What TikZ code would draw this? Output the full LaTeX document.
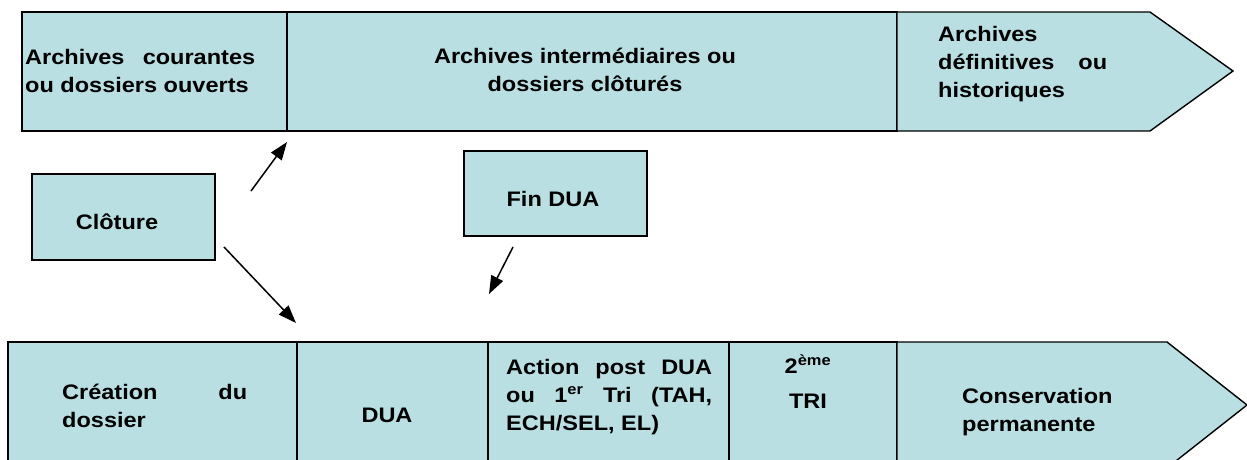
\documentclass[tikz,border=0pt]{standalone}
\usepackage{fontspec}
\setmainfont{Liberation Sans}[FakeStretch=1.12]
\usetikzlibrary{arrows.meta}
\definecolor{boxfill}{RGB}{185,223,227}
\tikzset{
  box/.style={draw=black, fill=boxfill, line width=1.4pt, line join=miter},
  rbox/.style={box, rectangle, inner sep=0pt, outer sep=0pt, anchor=north west},
  lbl/.style={inner sep=0pt, font=\fontsize{21}{28}\selectfont\bfseries, align=left, anchor=base west},
  clbl/.style={inner sep=0pt, font=\fontsize{21}{28}\selectfont\bfseries, align=center, anchor=base},
  arr/.style={line width=1.5pt, -{Triangle[length=18pt,width=13pt]}}
}
\begin{document}
\begin{tikzpicture}[x=1pt,y=-1pt]
\useasboundingbox (0,0) rectangle (1247,459);
\clip (0,0) rectangle (1247,459);
% top row
\node[rbox, minimum width=265pt, minimum height=119pt] (top1) at (22,12) {};
\node[rbox, minimum width=610pt, minimum height=119pt] (top2) at (287,12) {};
\draw[box] (897,12) -- (1150,12) -- (1233,71) -- (1150,131) -- (897,131) -- cycle;
% bottom row
\node[rbox, minimum width=289pt, minimum height=126pt] (bot1) at (8,342) {};
\node[rbox, minimum width=191pt, minimum height=126pt] (bot2) at (297,342) {};
\node[rbox, minimum width=241pt, minimum height=126pt] (bot3) at (488,342) {};
\node[rbox, minimum width=168pt, minimum height=126pt] (bot4) at (729,342) {};
\draw[box] (897,342) -- (1167,342) -- (1247,405) -- (1167,468) -- (897,468) -- cycle;
% middle boxes
\node[rbox, minimum width=183pt, minimum height=86pt] (clo) at (32,174) {};
\node[rbox, minimum width=183pt, minimum height=85pt] (fin) at (464,151) {};
% texts (anchor = baseline of the last line)
\node[lbl] (t1) at (25,92) {\makebox[230pt][s]{Archives courantes}\\ou dossiers ouverts};
\node[clbl] (t2) at (585,91) {Archives intermédiaires ou\\dossiers clôturés};
\node[lbl] (t3) at (938,97) {Archives\\\makebox[169pt][s]{définitives ou}\\historiques};
\node[clbl] (t4) at (117,229) {Clôture};
\node[clbl] (t5) at (553,206) {Fin DUA};
\node[lbl] (t6) at (62,427) {\makebox[185pt][s]{Création du}\\dossier};
\node[clbl] (t7) at (387,422) {DUA};
\node[lbl] (t8) at (506,430) {\makebox[206pt][s]{Action post DUA}\\\makebox[206pt][s]{ou 1\textsuperscript{er} Tri (TAH,}\\ECH/SEL, EL)};
\node[clbl] (t9) at (808,408) {2\textsuperscript{ème}\\[7pt]TRI};
\node[lbl] (t10) at (962,431) {Conservation\\permanente};
% arrows
\coordinate (a1s) at (251,191);
\coordinate (a1e) at (287,142);
\coordinate (a2s) at (224,247);
\coordinate (a2e) at (296,323);
\coordinate (a3s) at (513,247);
\coordinate (a3e) at (489,294);
\draw[arr] (a1s) -- (a1e);
\draw[arr] (a2s) -- (a2e);
\draw[arr] (a3s) -- (a3e);
\end{tikzpicture}
\end{document}
